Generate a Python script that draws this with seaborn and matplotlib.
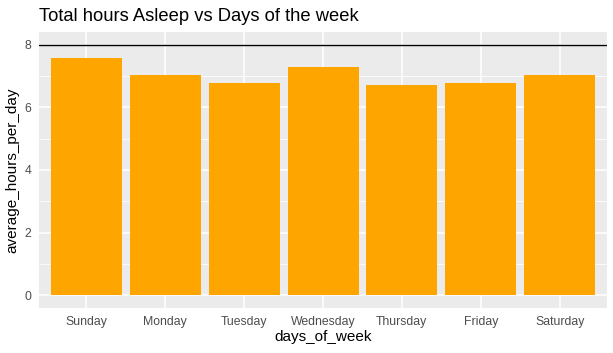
import pandas as pd
import matplotlib
matplotlib.use('Agg')
import matplotlib.pyplot as plt
import seaborn as sns

days = ['Sunday', 'Monday', 'Tuesday', 'Wednesday', 'Thursday', 'Friday', 'Saturday']
avg_hours = [7.56, 7.02, 6.76, 7.27, 6.70, 6.76, 7.02]
ref_line = 8

df = pd.DataFrame({'days_of_week': days, 'average_hours_per_day': avg_hours})

sns.set_style('darkgrid', {'axes.facecolor': '#EBEBEB', 'grid.color': 'white'})
plt.rcParams['font.family'] = ['Liberation Sans', 'DejaVu Sans']

fig = plt.figure(figsize=(6.13, 3.53), dpi=100)
ax = fig.add_axes([39 / 613, 1 - 308 / 353, 568 / 613, 276 / 353])

sns.barplot(data=df, x='days_of_week', y='average_hours_per_day', order=days,
            color='#FFA500', saturation=1, width=0.9, linewidth=0, ax=ax, zorder=2)
ax.axhline(ref_line, color='black', linewidth=1, zorder=3)

ax.set_xlim(-0.6, 6.6)
ax.set_ylim(-0.4, 8.4)
ax.set_yticks([0, 2, 4, 6, 8])
ax.set_yticks([1, 3, 5, 7], minor=True)
ax.grid(which='major', color='white', linewidth=1.1)
ax.grid(which='minor', axis='y', color='white', linewidth=0.55)
ax.set_axisbelow(True)
for s in ax.spines.values():
    s.set_visible(False)

ax.tick_params(axis='both', which='major', length=3, width=0.8, color='#333333',
               labelsize=8.8, labelcolor='#4D4D4D', pad=2.5)
ax.tick_params(axis='both', which='minor', length=0)
ax.set_xlabel('days_of_week', fontsize=11, color='black', labelpad=2)
ax.set_ylabel('average_hours_per_day', fontsize=11, color='black', labelpad=4)
ax.set_title('Total hours Asleep vs Days of the week', fontsize=13.2, loc='left',
             x=0, pad=8, color='black')

fig.savefig('out.png', dpi=100)
